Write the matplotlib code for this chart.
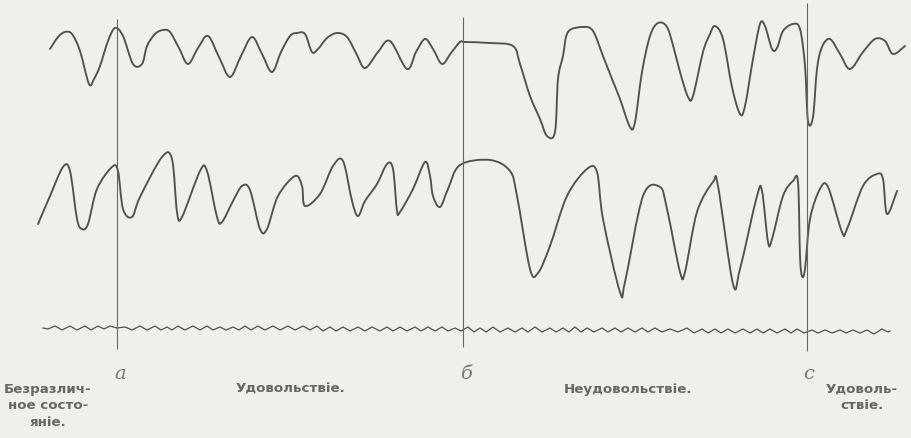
import matplotlib

matplotlib.use("Agg")
import matplotlib.pyplot as plt
import numpy as np
from matplotlib.patches import PathPatch
from matplotlib.path import Path

# Upper respiration curve (pixel coordinates of the tracing)
upper_x = [50, 58, 65, 72, 80, 89, 94, 100, 108, 115, 123, 133, 142, 147, 155, 163, 170, 179, 188,
           198, 208, 219, 230, 241, 252, 262, 272, 281, 290, 297, 305, 312, 318, 327, 337, 347,
           356, 365, 378, 390, 407, 416, 425, 433, 442, 451, 460, 465, 490, 513, 520, 530, 540,
           547, 555, 558, 563, 568, 583, 593, 603, 612, 620, 630, 635, 642, 650, 658, 667, 674,
           680, 688, 693, 703, 710, 715, 723, 732, 740, 745, 753, 760, 765, 772, 777, 783, 793,
           800, 805, 808, 813, 817, 822, 830, 840, 850, 863, 875, 885, 893, 905]
upper_y = [50, 38, 33, 35, 52, 85, 80, 67, 42, 29, 37, 65, 65, 47, 35, 31, 33, 49, 65,
           49, 37, 58, 78, 57, 38, 55, 73, 53, 37, 34, 35, 53, 50, 39, 34, 38,
           54, 69, 53, 42, 70, 53, 40, 50, 65, 54, 43, 43, 44, 47, 65, 97, 120,
           137, 133, 80, 57, 33, 28, 32, 57, 80, 100, 128, 123, 73, 37, 24, 28, 50,
           73, 98, 97, 53, 35, 27, 40, 88, 115, 107, 60, 25, 27, 50, 49, 32, 25,
           30, 67, 122, 118, 70, 48, 40, 55, 70, 53, 40, 42, 55, 47]

# Lower respiration curve
lower_x = [38, 50, 63, 70, 77, 82, 88, 97, 112, 118, 123, 132, 140, 162, 172, 177, 182, 200, 207,
           217, 222, 233, 242, 250, 260, 267, 278, 295, 302, 305, 320, 333, 343, 352, 358, 365,
           377, 387, 393, 397, 400, 413, 425, 430, 433, 440, 448, 460, 490, 510, 517, 530, 538,
           550, 567, 587, 597, 603, 620, 625, 643, 660, 667, 680, 685, 697, 713, 718, 733, 740,
           757, 762, 768, 772, 783, 793, 798, 800, 802, 805, 810, 820, 828, 842, 847, 863, 877,
           883, 887, 897]
lower_y = [225, 197, 168, 172, 220, 230, 225, 190, 168, 172, 210, 218, 198, 158, 160, 213, 218, 172, 172,
           218, 223, 202, 187, 191, 230, 230, 197, 177, 187, 207, 195, 167, 162, 202, 217, 202,
           185, 165, 170, 212, 213, 190, 163, 177, 197, 208, 190, 166, 161, 172, 197, 270, 274,
           247, 197, 170, 173, 220, 293, 283, 197, 188, 210, 273, 273, 213, 183, 187, 285, 270,
           197, 192, 243, 240, 197, 182, 183, 257, 277, 270, 220, 190, 188, 233, 230, 187, 175,
           180, 215, 192]

# Time marker trace: crests and troughs of the small oscillations
time_x = [43, 48, 55, 62, 70, 77, 85, 91, 98, 104, 110, 117, 125, 132, 140, 147, 155, 161, 167, 172,
          178, 185, 193, 200, 207, 213, 220, 226, 233, 239, 245, 251, 258, 265, 273, 280, 288, 295,
          303, 310, 317, 323, 330, 336, 343, 350, 358, 365, 372, 380, 387, 393, 400, 407, 415, 421,
          428, 435, 442, 448, 455, 461, 468, 474, 480, 486, 493, 500, 508, 515, 522, 528, 535, 542,
          550, 556, 563, 569, 575, 581, 587, 594, 602, 608, 615, 621, 628, 635, 642, 648, 655, 662,
          670, 678, 687, 694, 702, 708, 715, 721, 728, 735, 743, 750, 757, 763, 770, 777, 785, 791,
          797, 804, 812, 818, 825, 832, 840, 846, 853, 860, 867, 874, 882, 888, 890]
time_y = [329, 330, 327, 331, 327, 331, 327, 331, 327, 330, 327, 329, 328, 331, 327, 331, 327, 331, 328, 331,
          327, 331, 327, 331, 327, 331, 328, 331, 328, 331, 327, 331, 327, 331, 327, 331, 327, 331,
          327, 331, 327, 332, 328, 332, 328, 332, 328, 332, 328, 332, 328, 332, 328, 332, 328, 332,
          328, 332, 328, 332, 329, 332, 328, 333, 329, 333, 328, 333, 329, 333, 329, 333, 328, 333,
          329, 333, 329, 333, 328, 333, 329, 333, 329, 333, 329, 333, 329, 333, 329, 333, 329, 333,
          330, 333, 329, 334, 330, 334, 330, 334, 330, 334, 330, 334, 330, 334, 330, 334, 330, 334,
          330, 334, 331, 334, 331, 334, 331, 334, 331, 334, 331, 335, 330, 333, 332]

# Event markers a, б, c: x position and vertical extent
marker_x = [117, 463, 807]
marker_top = [20, 18, 4]
marker_bottom = [350, 348, 352]
marker_letters = ["a", "б", "c"]
marker_letter_x = [120, 466, 809]

# Phase captions under the tracing
phase_labels = ["Безразлич-\nное состо-\nяніе.", "Удовольствіе.", "Неудовольствіе.", "Удоволь-\nствіе."]
phase_x = [48, 290, 628, 862]
phase_y = [383, 383, 383, 383]

INK = "#505050"
PAPER = "#efefed"


def smooth_path(xs, ys):
    """Catmull-Rom curve through every traced point, as cubic Bezier segments."""
    pts = np.column_stack([xs, ys]).astype(float)
    ext = np.vstack([pts[0], pts, pts[-1]])
    verts = [pts[0]]
    codes = [Path.MOVETO]
    for i in range(1, len(ext) - 2):
        p0, p1, p2, p3 = ext[i - 1], ext[i], ext[i + 1], ext[i + 2]
        verts += [p1 + (p2 - p0) / 6.0, p2 - (p3 - p1) / 6.0, p2]
        codes += [Path.CURVE4] * 3
    return Path(verts, codes)


fig = plt.figure(figsize=(9.11, 4.39), dpi=100, facecolor=PAPER)
ax = fig.add_axes([0, 0, 1, 1])
ax.set_facecolor(PAPER)
ax.set_xlim(0, 911)
ax.set_ylim(439, 0)
ax.axis("off")

for xs, ys in [(upper_x, upper_y), (lower_x, lower_y)]:
    ax.add_patch(PathPatch(smooth_path(xs, ys), fill=False, edgecolor=INK, lw=1.35,
                           joinstyle="round", capstyle="round"))
ax.plot(time_x, time_y, color=INK, lw=0.9, solid_joinstyle="round")

ax.vlines(marker_x, marker_top, marker_bottom, color="#666666", lw=0.8)

for x, letter in zip(marker_letter_x, marker_letters):
    ax.text(x, 374, letter, ha="center", va="center", fontsize=14, color="#7a7a7a",
            family="DejaVu Serif", style="italic")

for x, y, label in zip(phase_x, phase_y, phase_labels):
    ax.text(x, y, label, ha="center", va="top", fontsize=9.6, color="#666666",
            family="DejaVu Sans", fontweight="bold", linespacing=1.35)

fig.savefig("out.png", dpi=100, facecolor=PAPER)
